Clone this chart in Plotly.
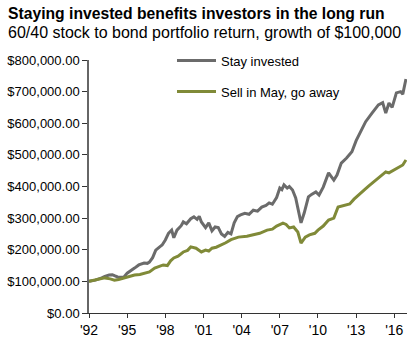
import plotly.graph_objects as go

stay_dates = ["1992-01","1992-07","1993-01","1993-04","1993-08","1993-11","1994-01","1994-04","1994-07","1994-10",
              "1995-01","1995-04","1995-08","1995-12","1996-05","1996-08","1996-10","1997-01","1997-04","1997-08",
              "1997-10","1998-01","1998-04","1998-07","1998-09","1998-12","1999-04","1999-06","1999-09","2000-01",
              "2000-04","2000-07","2000-09","2000-11","2001-01","2001-03","2001-06","2001-09","2001-12","2002-03",
              "2002-06","2002-09","2002-12","2003-03","2003-06","2003-09","2003-12","2004-04","2004-08","2004-12",
              "2005-04","2005-08","2005-12","2006-03","2006-06","2006-10","2007-01","2007-03","2007-05","2007-08",
              "2007-10","2008-01","2008-04","2008-07","2008-09","2008-12","2009-04","2009-07","2009-11","2010-02",
              "2010-06","2010-11","2011-04","2011-07","2011-11","2012-04","2012-09","2013-01","2013-06","2013-10",
              "2014-04","2014-10","2015-02","2015-05","2015-08","2015-11","2016-03","2016-07","2016-09","2016-12"]
stay_values = [100,104,111,116,120,121,118,114,113,114,
               126,132,142,152,158,157,161,175,199,210,
               215,231,252,262,238,262,276,288,282,298,
               304,296,306,288,278,270,285,260,272,270,
               250,242,255,250,285,305,310,315,312,325,
               322,335,340,348,344,365,395,390,405,395,
               400,389,364,316,285,316,367,375,383,373,
               398,443,420,436,474,490,510,545,579,605,
               632,658,665,632,664,650,696,700,692,740]

sell_dates = ["1992-01","1992-07","1993-04","1993-09","1994-01","1994-05","1994-10","1995-03","1995-08","1996-01",
              "1996-05","1996-10","1997-03","1997-07","1997-11","1998-03","1998-06","1998-09","1999-01","1999-06",
              "1999-10","2000-01","2000-06","2000-11","2001-03","2001-06","2001-09","2002-01","2002-06","2002-10",
              "2003-03","2003-10","2004-06","2004-12","2005-06","2006-01","2006-06","2006-10","2007-04","2007-07",
              "2007-10","2008-02","2008-06","2008-09","2009-01","2009-05","2009-10","2010-01","2010-06","2010-11",
              "2011-04","2011-08","2012-03","2012-07","2012-11","2013-03","2013-09","2014-01","2014-10","2015-05",
              "2015-08","2015-12","2016-05","2016-09","2016-12"]
sell_values = [100,104,111,108,104,106,111,115,120,122,
               126,130,142,148,152,150,165,174,180,193,
               198,209,205,193,199,196,205,208,215,222,
               232,240,243,247,252,262,265,275,284,280,
               269,272,256,221,240,247,252,262,275,294,
               300,335,341,345,360,373,390,402,427,446,
               443,450,459,468,484]

series_names = ["Stay invested", "Sell in May, go away"]
tick_years = ["1992","1995","1998","2001","2004","2007","2010","2013","2016"]
tick_labels = ["'92","'95","'98","'01","'04","'07","'10","'13","'16"]
y_ticks = [0,100000,200000,300000,400000,500000,600000,700000,800000]

FONT = "Liberation Sans, Arial, sans-serif"

fig = go.Figure()
fig.add_trace(go.Scatter(x=stay_dates, y=[v*1000 for v in stay_values], mode="lines",
                         name=series_names[0], legendgroup="a",
                         line=dict(color="#6b6b6b", width=3)))
fig.add_trace(go.Scatter(x=sell_dates, y=[v*1000 for v in sell_values], mode="lines",
                         name=series_names[1], legendgroup="b",
                         line=dict(color="#808a38", width=3)))

fig.update_layout(
    width=414, height=344,
    margin=dict(l=89, r=7, t=60, b=31),
    paper_bgcolor="white", plot_bgcolor="white",
    font=dict(family=FONT, color="black", size=13),
    showlegend=True,
    legend=dict(x=0.261, y=1.057, xanchor="left", yanchor="top",
                bgcolor="rgba(0,0,0,0)", font=dict(size=13, color="black"),
                tracegroupgap=11, itemwidth=39),
    annotations=[
        dict(text="<b>Staying invested benefits investors in the long run</b>",
             xref="paper", yref="paper", x=-0.261, y=1.182, xanchor="left", yanchor="middle",
             showarrow=False, font=dict(size=15.7, color="black")),
        dict(text="60/40 stock to bond portfolio return, growth of $100,000",
             xref="paper", yref="paper", x=-0.261, y=1.107, xanchor="left", yanchor="middle",
             showarrow=False, font=dict(size=16, color="black")),
    ],
)
fig.update_xaxes(type="date", range=["1992-01-01", "2016-12-31"],
                 tickvals=tick_years, ticktext=tick_labels,
                 showgrid=False, zeroline=False, automargin=False,
                 showline=True, linecolor="#333", linewidth=1,
                 ticks="outside", ticklen=4, tickcolor="#333",
                 tickfont=dict(size=14))
fig.update_yaxes(range=[0, 800000], tickvals=y_ticks, tickformat="$,.2f",
                 showgrid=False, zeroline=False, automargin=False,
                 showline=True, linecolor="#666", linewidth=1.5,
                 ticks="outside", ticklen=5, tickcolor="#333",
                 tickfont=dict(size=13))

fig.write_html("out.html")
